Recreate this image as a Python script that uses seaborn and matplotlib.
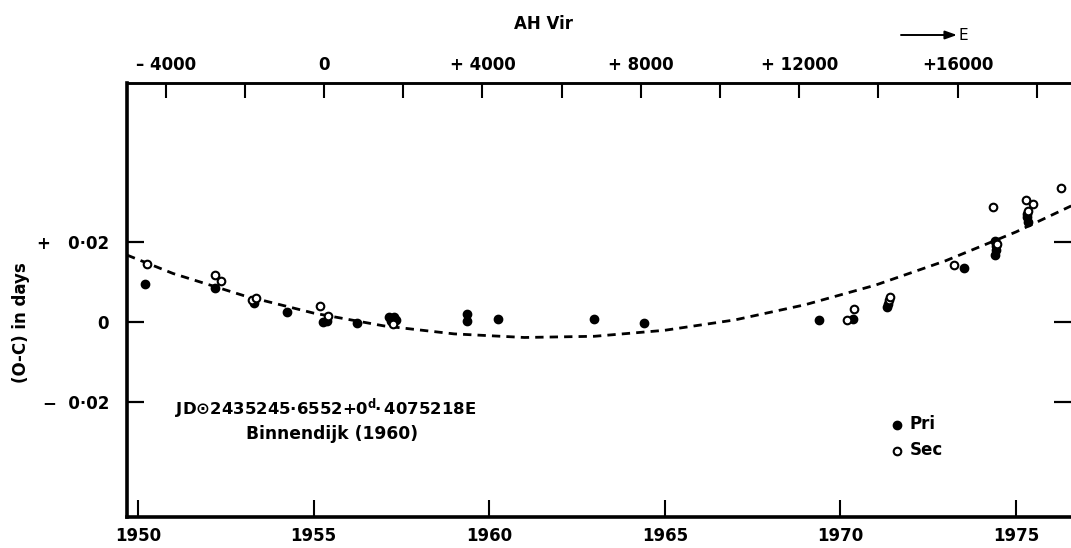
import numpy as np
import pandas as pd
import matplotlib
matplotlib.use("Agg")
import matplotlib.pyplot as plt
import seaborn as sns

# ---------------- data ----------------
pri_year = [1950.21, 1952.19, 1953.29, 1954.24, 1955.27, 1955.38, 1956.25,
            1957.15, 1957.20, 1957.30, 1957.35, 1959.37, 1959.37, 1960.24,
            1962.97, 1964.40, 1969.38, 1970.37, 1971.33, 1971.35,
            1973.53, 1974.40, 1974.42, 1974.44, 1974.42, 1974.40,
            1975.30, 1975.32, 1975.33]
pri_oc = [0.0096, 0.0086, 0.0046, 0.0025, 0.0000, 0.0003, -0.0003,
          0.0012, 0.0003, 0.0013, 0.0005, 0.0019, 0.0003, 0.0007,
          0.0008, -0.0002, 0.0004, 0.0008, 0.0038, 0.0045,
          0.0134, 0.0202, 0.0198, 0.0190, 0.0180, 0.0168,
          0.0270, 0.0262, 0.0250]

sec_year = [1950.25, 1952.19, 1952.35, 1953.25, 1953.37, 1955.19, 1955.41,
            1957.25, 1970.18, 1970.39, 1971.37, 1971.40, 1973.23,
            1974.35, 1974.45, 1975.28, 1975.48, 1975.35, 1976.28]
sec_oc = [0.0146, 0.0117, 0.0103, 0.0054, 0.0061, 0.0040, 0.0015,
          -0.0005, 0.0005, 0.0033, 0.0055, 0.0062, 0.0143,
          0.0288, 0.0195, 0.0304, 0.0296, 0.0278, 0.0334]

curve_year = [1949.69, 1951, 1953, 1955, 1957, 1959, 1961, 1963, 1965,
              1967, 1969, 1971, 1973, 1975, 1976.57]
curve_oc = [0.0167, 0.0121, 0.0066, 0.0022, -0.0010, -0.0030, -0.0039,
            -0.0036, -0.0021, 0.0005, 0.0043, 0.0092, 0.0153, 0.0225, 0.0290]

year_ticks = [1950, 1955, 1960, 1965, 1970, 1975]
oc_ticks = [-0.02, 0.0, 0.02]
oc_tick_labels = ["\u2212  0\u00b702", "0", "+   0\u00b702"]
epoch_ticks = [-4000, -2000, 0, 2000, 4000, 6000, 8000, 10000, 12000,
               14000, 16000, 18000]
epoch_labels = {-4000: "\u2013 4000", 0: "0", 4000: "+ 4000", 8000: "+ 8000",
                12000: "+ 12000", 16000: "+16000"}
EPOCH_ZERO_YEAR = 1955.296
CYCLES_PER_YEAR = 886.9

# ---------------- style ----------------
sns.set_style("ticks")
plt.rcParams["font.family"] = ["DejaVu Sans"]
plt.rcParams["font.weight"] = "bold"
for key in ["text.color", "axes.labelcolor", "xtick.color", "ytick.color",
            "axes.edgecolor"]:
    plt.rcParams[key] = "black"

W, H = 1071, 548
fig = plt.figure(figsize=(W / 100, H / 100), dpi=100)
L, R, T, B = 127, 1071, 83, 517
ax = fig.add_axes([L / W, (H - B) / H, (R - L) / W, (B - T) / H])


def ax_xy(px, py):
    return ((px - L) / (R - L), (B - py) / (B - T))


df_pri = pd.DataFrame({"year": pri_year, "oc": pri_oc})
df_sec = pd.DataFrame({"year": sec_year, "oc": sec_oc})
df_curve = pd.DataFrame({"year": curve_year, "oc": curve_oc})

sns.lineplot(data=df_curve, x="year", y="oc", ax=ax, color="black",
             linewidth=2.0, dashes=False, sort=True)
ax.lines[-1].set_dashes((3, 2.2))

sns.scatterplot(data=df_pri, x="year", y="oc", ax=ax, marker="o", s=36,
                color="black", edgecolor="black", linewidth=1.0, label="Pri",
                zorder=3)
sns.scatterplot(data=df_sec, x="year", y="oc", ax=ax, marker="o", s=30,
                facecolor="white", edgecolor="black", linewidth=1.5,
                label="Sec", zorder=4)

ax.set_xlim(1949.687, 1976.566)
ax.set_ylim(-0.0488, 0.05975)

ax.set_xticks(year_ticks)
ax.set_xticklabels([str(y) for y in year_ticks], fontsize=12, fontweight="bold")
ax.set_yticks(oc_ticks)
ax.set_yticklabels(oc_tick_labels, fontsize=12, fontweight="bold")
ax.tick_params(axis="x", direction="in", length=12, width=1.5, pad=7)
ax.tick_params(axis="y", direction="in", length=12, width=1.6, pad=13,
               left=True, right=True)

for side in ["left", "bottom"]:
    ax.spines[side].set_linewidth(2.6)
ax.spines["top"].set_linewidth(1.8)
ax.spines["right"].set_visible(False)

ax.set_xlabel("")
ax.set_ylabel("(O-C) in days", fontsize=12, fontweight="bold")
ax.yaxis.set_label_coords(ax_xy(30.5, 0)[0], ax_xy(0, 322.5)[1])

# top epoch axis
top = ax.secondary_xaxis(
    "top",
    functions=(lambda y: (y - EPOCH_ZERO_YEAR) * CYCLES_PER_YEAR,
               lambda e: e / CYCLES_PER_YEAR + EPOCH_ZERO_YEAR))
top.set_xticks(epoch_ticks)
top.set_xticklabels([epoch_labels.get(e, "") for e in epoch_ticks],
                    fontsize=12, fontweight="bold")
top.tick_params(axis="x", direction="in", length=11, width=1.5, pad=6.5)
top.spines["top"].set_linewidth(1.8)

# texts
fig.text(543 / W, 1 - 24 / H, "AH Vir", ha="center", va="center",
         fontsize=12, fontweight="bold")
fig.text(958 / W, 1 - 35 / H, "E", ha="left", va="center", fontsize=11,
         fontweight="normal")
ax.annotate("", xy=(957 / W, 1 - 35 / H), xytext=(901 / W, 1 - 35 / H),
            xycoords="figure fraction", textcoords="figure fraction",
            arrowprops=dict(arrowstyle="-|>,head_length=0.7,head_width=0.25",
                            color="black", lw=1.4, shrinkA=0, shrinkB=0))

t1 = ax.text(*ax_xy(175, 409),
             r"JD$\odot$2435245$\cdot$6552+0$^{\mathrm{d}}\!\!\cdot$4075218E",
             transform=ax.transAxes, ha="left", va="center", fontsize=11,
             fontweight="bold")
t2 = ax.text(*ax_xy(332.5, 434), "Binnendijk (1960)", transform=ax.transAxes,
             ha="center", va="center", fontsize=11, fontweight="bold")

renderer = fig.canvas.get_renderer()
for t, target in [(t1, 300.0), (t2, 171.0)]:
    w = t.get_window_extent(renderer).width
    t.set_fontsize(t.get_fontsize() * target / w)

lx, ly = ax_xy(890.3, 415.3)
leg = ax.legend(loc="upper left", bbox_to_anchor=(lx, ly), frameon=False,
                borderpad=0, borderaxespad=0, handletextpad=0.38,
                handlelength=0.8, labelspacing=0.49, markerscale=1.0,
                prop={"size": 12, "weight": "bold"})

fig.savefig("out.png", dpi=100)
